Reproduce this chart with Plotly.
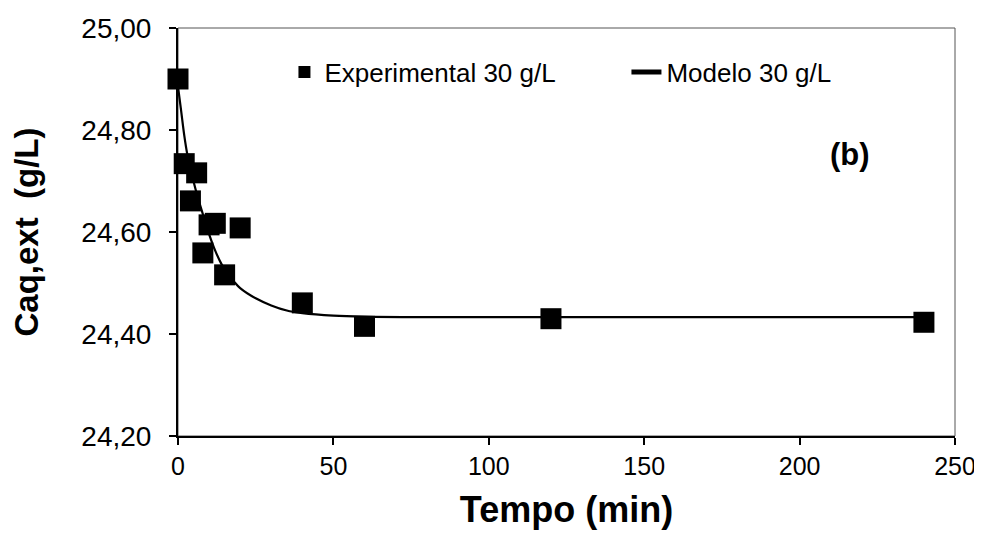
import plotly.graph_objects as go

# Experimental data (min, g/L)
exp_t = [0, 2, 4, 6, 8, 10, 12, 15, 20, 40, 60, 120, 240]
exp_c = [24.90, 24.734, 24.661, 24.716, 24.559, 24.614, 24.617, 24.516, 24.608, 24.461, 24.415, 24.430, 24.423]

# Model curve
model_t = [0, 1, 2, 3, 4, 5, 6, 8, 10, 12, 14, 16, 18, 20, 25, 30, 35, 40, 50, 60, 80, 120, 240]
model_c = [24.885, 24.838, 24.790, 24.752, 24.724, 24.699, 24.676, 24.635, 24.596, 24.563, 24.537,
           24.518, 24.503, 24.490, 24.470, 24.456, 24.446, 24.441, 24.436, 24.434, 24.433, 24.433, 24.433]

x_ticks = [0, 50, 100, 150, 200, 250]
y_ticks = [24.20, 24.40, 24.60, 24.80, 25.00]

FONT = "Liberation Sans, Arial, sans-serif"

fig = go.Figure()
fig.add_trace(go.Scatter(
    x=exp_t, y=exp_c, mode="markers", name="Experimental 30 g/L",
    marker=dict(symbol="square", size=21, color="black", line=dict(width=0)),
    cliponaxis=False,
))
fig.add_trace(go.Scatter(
    x=model_t, y=model_c, mode="lines", name="Modelo 30 g/L",
    line=dict(color="black", width=2.2, shape="spline"),
    cliponaxis=False,
))

fig.add_shape(type="rect", xref="paper", yref="paper", x0=0, y0=0, x1=1, y1=1,
              line=dict(color="#555555", width=1), layer="below")

fig.add_annotation(text="<b>(b)</b>", x=0.865, y=0.689, xref="paper", yref="paper",
                   xanchor="center", yanchor="middle",
                   showarrow=False, font=dict(family=FONT, size=31, color="black"))

fig.update_layout(
    width=974, height=522,
    margin=dict(l=170, r=27, t=20, b=94),
    paper_bgcolor="white", plot_bgcolor="white",
    separators=",.",
    font=dict(family=FONT, size=26, color="black"),
    showlegend=True,
    legend=dict(orientation="h", x=0.137, y=0.892, xanchor="left", yanchor="middle",
                bgcolor="rgba(0,0,0,0)", font=dict(size=26, family=FONT),
                entrywidth=297, itemsizing="constant", tracegroupgap=0),
    xaxis=dict(
        range=[0, 250], tickvals=x_ticks, ticktext=[str(v) for v in x_ticks],
        showgrid=False, zeroline=False, showline=True, linecolor="black", linewidth=2,
        ticks="outside", ticklen=7, tickwidth=1.5, tickcolor="black",
        tickfont=dict(size=25, family=FONT), automargin=False,
        title=dict(text="<b>Tempo (min)</b>", font=dict(size=36, family=FONT), standoff=18),
        layer="below traces",
    ),
    yaxis=dict(
        range=[24.20, 25.00], tickvals=y_ticks, tickformat=".2f",
        showgrid=False, zeroline=False, showline=True, linecolor="black", linewidth=2,
        ticks="outside", ticklen=7, tickwidth=1.5, tickcolor="black",
        tickfont=dict(size=28, family=FONT), ticklabelstandoff=12, automargin=False,
        title=dict(text="<b>Caq,ext\u00a0\u00a0(g/L)</b>", font=dict(size=33, family=FONT), standoff=38),
        layer="below traces",
    ),
)

fig.write_html("out.html")
